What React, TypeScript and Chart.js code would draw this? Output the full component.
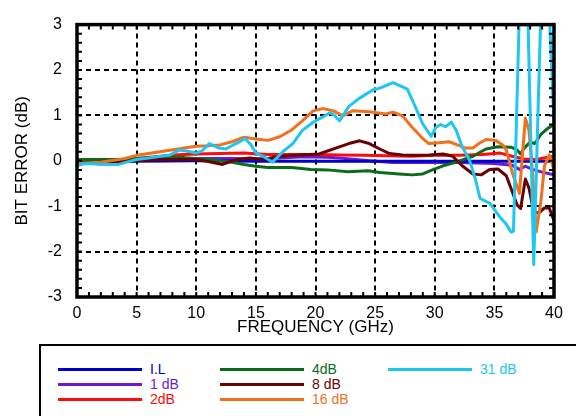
import React, { useEffect, useRef } from "react";
import { Chart, registerables } from "chart.js";

Chart.register(...registerables);

// ---- data ----
const labels = ["I.L", "1 dB", "2dB", "4dB", "8 dB", "16 dB", "31 dB"];
const colors = ["#0000cc", "#6a1ad8", "#ff0a0a", "#0b6b1b", "#6b0000", "#f0701e", "#1ec6f2"];

const ilF = [0, 5, 10, 15, 20, 25, 30, 35, 40];
const ilV = [-0.03, -0.01, 0, -0.01, -0.01, -0.01, -0.01, -0.01, -0.01];

const db1F = [0, 3, 5, 7, 9, 11, 13, 15, 17, 19, 21, 22, 24.5, 26.5, 29, 32, 35, 36.5, 37.1, 37.6, 38.2, 39, 40];
const db1V = [-0.03, -0.01, 0.02, 0.04, 0.05, 0.05, 0.05, 0.04, 0.06, 0.09, 0.08, 0.06, 0.0, -0.04, -0.04, -0.04, -0.06, -0.1, -0.19, -0.12, -0.19, -0.25, -0.31];

const db2F = [0, 3, 5, 7, 8, 10, 12, 14, 16, 18, 20, 22, 24, 26, 28, 30, 32, 34, 35.5, 36.5, 37.5, 38.5, 39.5, 40];
const db2V = [-0.02, 0.0, 0.05, 0.1, 0.13, 0.15, 0.16, 0.17, 0.14, 0.14, 0.14, 0.13, 0.12, 0.11, 0.1, 0.12, 0.12, 0.14, 0.17, 0.1, 0.04, 0.03, 0.08, 0.1];

const db4F = [0, 2, 4, 5, 7, 9, 10, 11, 12, 13, 14, 15, 16, 18, 19.6, 21, 22.7, 24.4, 25.4, 27, 28.1, 29, 29.8, 30.7, 31.8, 33.2, 34.3, 35.3, 36.4, 36.9, 37.2, 37.5, 38, 38.4, 38.9, 39.5, 40];
const db4V = [0.03, 0.03, 0.03, 0.05, 0.08, 0.07, 0.05, 0.03, 0.0, -0.03, -0.08, -0.12, -0.15, -0.15, -0.19, -0.2, -0.24, -0.22, -0.26, -0.29, -0.31, -0.29, -0.2, -0.11, -0.03, 0.1, 0.26, 0.31, 0.3, 0.24, 0.15, 0.28, 0.41, 0.38, 0.58, 0.72, 0.8];

const db8F = [0, 3, 5, 7, 10, 10.9, 12.2, 13.4, 14.5, 15.6, 17, 18.7, 20.3, 21.7, 22.8, 23.7, 24.5, 25.4, 26.2, 27.3, 28.4, 29.5, 30.7, 31.5, 32.3, 33.2, 33.9, 34.6, 35.3, 36, 36.5, 36.9, 37.2, 37.6, 37.9, 38.3, 38.7, 39.2, 39.6, 40];
const db8V = [-0.05, -0.03, 0.0, 0.03, 0.03, -0.01, -0.08, 0.03, 0.06, 0.03, 0.1, 0.13, 0.15, 0.28, 0.38, 0.44, 0.38, 0.26, 0.16, 0.13, 0.12, 0.13, 0.15, 0.1, -0.11, -0.29, -0.31, -0.19, -0.18, -0.33, -0.68, -0.97, -1.05, -0.4, -0.6, -1.12, -1.15, -1.04, -1.04, -1.32];

const db16F = [0, 2, 4, 5, 6, 7.5, 9, 10, 11, 12, 13, 14, 15, 16, 17, 18, 18.9, 19.8, 20.6, 21.5, 22.3, 23.1, 24.5, 25.9, 26.5, 27.3, 28.1, 29.0, 29.5, 30.4, 31.2, 31.9, 32.6, 33.2, 33.7, 34.3, 35.1, 35.7, 36.0, 36.5, 37.1, 37.6, 37.9, 38.2, 38.5, 38.9, 39.2, 39.6, 40];
const db16V = [-0.06, -0.03, 0.05, 0.12, 0.16, 0.22, 0.28, 0.32, 0.33, 0.35, 0.42, 0.52, 0.48, 0.45, 0.53, 0.68, 0.88, 1.1, 1.15, 1.1, 0.99, 1.1, 1.08, 1.03, 1.07, 0.99, 0.74, 0.49, 0.38, 0.4, 0.42, 0.35, 0.28, 0.28, 0.38, 0.47, 0.45, 0.35, 0.24, -0.26, -0.72, 0.94, 0.67, -0.26, -1.57, -0.9, -0.11, 0.13, -0.2];

const db31F = [0, 0.5, 1, 2, 3, 3.5, 4, 5, 6, 7, 7.8, 8.6, 9, 9.5, 10, 10.5, 11.1, 11.9, 12.5, 12.8, 13.5, 14.1, 14.6, 15.0, 15.6, 16.4, 17.3, 18.1, 18.9, 19.8, 20.5, 21.2, 21.6, 22.0, 22.8, 23.7, 24.8, 25.4, 26.5, 27.3, 27.7, 28.4, 29.0, 29.7, 30.1, 30.5, 30.9, 31.4, 31.8, 32.3, 32.9, 33.4, 33.8, 34.6, 35.1, 35.5, 36.0, 36.4, 36.6, 37.1, 37.8, 38.3, 38.9, 39.6, 40];
const db31V = [-0.11, -0.07, -0.06, -0.08, -0.08, -0.08, -0.04, 0.03, 0.06, 0.1, 0.13, 0.24, 0.22, 0.2, 0.17, 0.22, 0.38, 0.28, 0.26, 0.31, 0.4, 0.49, 0.35, 0.17, 0.1, -0.03, 0.21, 0.38, 0.67, 0.85, 0.95, 1.06, 1.0, 0.88, 1.2, 1.38, 1.56, 1.6, 1.72, 1.63, 1.58, 1.17, 0.81, 0.54, 0.74, 0.8, 0.75, 0.85, 0.67, 0.31, 0.03, -0.4, -0.83, -0.93, -1.11, -1.25, -1.4, -1.57, -1.55, 3.3, 3.3, -2.29, 3.3, 3.3, 0.8];

const seriesF = [ilF, db1F, db2F, db4F, db8F, db16F, db31F];
const seriesV = [ilV, db1V, db2V, db4V, db8V, db16V, db31V];
const drawOrder = [5, 6, 4, 3, 2, 1, 0];

const xTicks = [0, 5, 10, 15, 20, 25, 30, 35, 40];
const yTicks = [-3, -2, -1, 0, 1, 2, 3];

const FONT = "'Liberation Sans', Arial, Helvetica, sans-serif";

const framePlugin = {
  id: "frame",
  afterDatasetsDraw(chart: any) {
    const { ctx, chartArea } = chart;
    const { left, top, right, bottom } = chartArea;
    const xs = chart.scales.x;
    const ys = chart.scales.y;
    ctx.save();
    ctx.strokeStyle = "#000";
    ctx.lineWidth = 2;
    ctx.setLineDash([]);
    ctx.beginPath();
    for (let f = 0; f <= 40; f += 1) {
      const px = xs.getPixelForValue(f);
      ctx.moveTo(px, top);
      ctx.lineTo(px, top + 5);
      ctx.moveTo(px, bottom);
      ctx.lineTo(px, bottom - 5);
    }
    for (let i = 0; i <= 30; i++) {
      const v = -3 + i * 0.2;
      const py = ys.getPixelForValue(v);
      ctx.moveTo(left, py);
      ctx.lineTo(left + 5, py);
      ctx.moveTo(right, py);
      ctx.lineTo(right - 5, py);
    }
    ctx.stroke();
    ctx.lineWidth = 3.5;
    ctx.strokeRect(left, top, right - left, bottom - top);
    ctx.restore();
  },
};

export default function App() {
  const ref = useRef<HTMLCanvasElement | null>(null);

  useEffect(() => {
    if (!ref.current) return;
    const datasets = labels.map((lab, i) => ({
      label: lab,
      data: seriesF[i].map((f, k) => ({ x: f, y: seriesV[i][k] })),
      borderColor: colors[i],
      backgroundColor: colors[i],
      borderWidth: 3,
      pointRadius: 0,
      tension: 0,
      borderJoinStyle: "round" as const,
      order: drawOrder[i],
    }));
    const chart = new Chart(ref.current, {
      type: "line",
      data: { datasets },
      options: {
        animation: false,
        responsive: false,
        layout: { padding: { left: 0, top: 19, right: 22, bottom: 0 } },
        plugins: { legend: { display: false }, tooltip: { enabled: false } },
        scales: {
          x: {
            type: "linear",
            min: 0,
            max: 40,
            afterBuildTicks: (s: any) => {
              s.ticks = xTicks.map((v) => ({ value: v }));
            },
            afterFit: (s: any) => {
              s.height = 43;
            },
            ticks: {
              color: "#000",
              padding: 7,
              font: { family: FONT, size: 16 },
              callback: (v: any) => String(v),
            },
            grid: { color: "#000", lineWidth: 2, drawTicks: false },
            border: { display: false, dash: [5, 4] },
            title: {
              display: true,
              text: "FREQUENCY (GHz)",
              color: "#000",
              font: { family: FONT, size: 17 },
              padding: { top: 0, bottom: 2 },
            },
          },
          y: {
            type: "linear",
            min: -3,
            max: 3,
            afterBuildTicks: (s: any) => {
              s.ticks = yTicks.map((v) => ({ value: v }));
            },
            afterFit: (s: any) => {
              s.width = 77;
            },
            ticks: {
              color: "#000",
              padding: 15,
              font: { family: FONT, size: 16 },
              callback: (v: any) => String(v),
            },
            grid: { color: "#000", lineWidth: 2, drawTicks: false },
            border: { display: false, dash: [5, 4] },
            title: {
              display: true,
              text: "BIT ERROR (dB)",
              color: "#000",
              font: { family: FONT, size: 17 },
              padding: { top: 12, bottom: 0 },
            },
          },
        },
      },
      plugins: [framePlugin],
    });
    return () => chart.destroy();
  }, []);

  const legendRows = [
    { col: 0, row: 0, i: 0 },
    { col: 0, row: 1, i: 1 },
    { col: 0, row: 2, i: 2 },
    { col: 1, row: 0, i: 3 },
    { col: 1, row: 1, i: 4 },
    { col: 1, row: 2, i: 5 },
    { col: 2, row: 0, i: 6 },
  ];
  const colX = [58, 220, 388];
  const rowY = [369, 384, 399];

  return (
    <div
      style={{
        position: "fixed",
        left: 0,
        top: 0,
        width: 576,
        height: 416,
        overflow: "hidden",
        background: "#fff",
      }}
    >
      <canvas ref={ref} width={576} height={340} style={{ position: "absolute", left: 0, top: 0, width: 576, height: 340 }} />
      <div
        style={{
          position: "absolute",
          left: 39,
          top: 344,
          width: 600,
          height: 120,
          border: "2px solid #000",
          boxSizing: "border-box",
        }}
      />
      {legendRows.map(({ col, row, i }) => (
        <React.Fragment key={labels[i]}>
          <div
            style={{
              position: "absolute",
              left: colX[col],
              top: rowY[row] - 1.5,
              width: 84,
              height: 3,
              background: colors[i],
            }}
          />
          <div
            style={{
              position: "absolute",
              left: colX[col] + 92,
              top: rowY[row] - 9,
              height: 18,
              lineHeight: "18px",
              fontFamily: FONT,
              fontSize: 14,
              color: colors[i],
              whiteSpace: "nowrap",
            }}
          >
            {labels[i]}
          </div>
        </React.Fragment>
      ))}
    </div>
  );
}
